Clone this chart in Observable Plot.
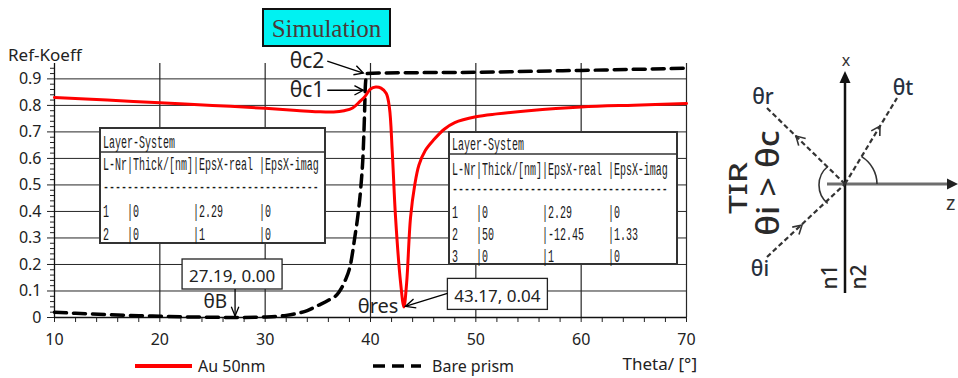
<!DOCTYPE html>
<html>
<head>
<meta charset="utf-8">
<script src="https://cdn.jsdelivr.net/npm/d3@7"></script>
<script src="https://cdn.jsdelivr.net/npm/@observablehq/plot@0.6"></script>
<style>
  body { margin: 0; background: #fff; }
  #chart { position: relative; width: 958px; height: 378px; }
</style>
</head>
<body>
<div id="chart"></div>
<script>
// ---------------- data ----------------
const seriesNames = ["Au 50nm", "Bare prism"];

const thetaAu = [10, 15, 20, 25, 30, 33, 35, 36.5, 37.5, 38.3, 39, 39.5, 40, 40.5, 41, 41.5, 41.8, 42.06, 42.38, 42.86, 43.17, 43.43, 43.8, 44.2, 44.6, 45.2, 46, 47, 48, 50, 52, 55, 60, 65, 70];
const rAu     = [0.83, 0.82, 0.81, 0.80, 0.789, 0.781, 0.776, 0.775, 0.78, 0.79, 0.815, 0.835, 0.862, 0.869, 0.865, 0.845, 0.79, 0.63, 0.377, 0.13, 0.04, 0.13, 0.377, 0.5, 0.575, 0.63, 0.67, 0.71, 0.735, 0.757, 0.768, 0.78, 0.794, 0.801, 0.807];

const thetaPrism = [10, 12, 15, 18, 20, 23, 25, 27.19, 29, 30, 31, 32, 33, 34, 35, 36, 37, 37.6, 38.1, 38.5, 38.85, 39.1, 39.3, 39.42, 39.52, 39.65, 41, 50, 60, 70];
const rPrism     = [0.02, 0.016, 0.011, 0.007, 0.005, 0.002, 0.0008, 0, 0.0008, 0.002, 0.004, 0.008, 0.015, 0.026, 0.045, 0.065, 0.095, 0.14, 0.2, 0.3, 0.4, 0.5, 0.62, 0.75, 0.88, 0.92, 0.922, 0.925, 0.932, 0.94];

const xTicks = [10, 20, 30, 40, 50, 60, 70];
const xMinorTicks = [12, 14, 16, 18, 22, 24, 26, 28, 32, 34, 36, 38, 42, 44, 46, 48, 52, 54, 56, 58, 62, 64, 66, 68];
const yTicks = [0, 0.1, 0.2, 0.3, 0.4, 0.5, 0.6, 0.7, 0.8, 0.9];
const yMinorTicks = d3.range(0, 0.95, 0.02).map(v => +v.toFixed(2)).filter(v => Math.round(v * 100) % 10 !== 0);

const yLabel = "Ref-Koeff";
const xLabel = "Theta/ [°]";
const titleText = "Simulation";

// annotated points
const criticalNotes = [
  { label: "θc2", theta: 39.55, R: 0.92 },
  { label: "θc1", theta: 39.55, R: 0.855 }
];
const brewster = { label: "θB", theta: 27.19, R: 0.00, box: "27.19, 0.00" };
const resonance = { label: "θres", theta: 43.17, R: 0.04, box: "43.17, 0.04" };

// layer tables
const tableHeader = ["Layer-System", "L-Nr|Thick/[nm]|EpsX-real |EpsX-imag", "------------------------------------"];
const tablePrismRows = ["1   |0         |2.29      |0", "2   |0         |1         |0"];
const tableAuRows = ["1   |0         |2.29      |0", "2   |50        |-12.45    |1.33", "3   |0         |1         |0"];

// diagram labels
const diagramLabels = { r: "θr", t: "θt", i: "θi", tir: "TIR", cond: "θi > θc", n1: "n1", n2: "n2", x: "x", z: "z" };

// ---------------- chart ----------------
const au = thetaAu.map((t, i) => ({ theta: t, R: rAu[i] }));
const prism = thetaPrism.map((t, i) => ({ theta: t, R: rPrism[i] }));

const gridColor = "#262626";
const plot = Plot.plot({
  width: 958,
  height: 378,
  marginLeft: 54,
  marginRight: 272,
  marginTop: 63,
  marginBottom: 61,
  x: { domain: [10, 70] },
  y: { domain: [0, 0.958] },
  style: { fontFamily: "Noto Sans, sans-serif", fontSize: "16px", color: "#222", background: "white", overflow: "visible" },
  marks: [
    Plot.gridY(yTicks.filter(v => v > 0), { stroke: gridColor, strokeOpacity: 1, strokeWidth: 1 }),
    Plot.gridX(xTicks.filter(v => v > 10), { stroke: gridColor, strokeOpacity: 1, strokeWidth: 1.2 }),
    Plot.axisY({ ticks: yMinorTicks, tickSize: 4, tickFormat: () => "", label: null, stroke: "#222" }),
    Plot.axisY({ ticks: yTicks, tickSize: 7, tickPadding: 6, tickFormat: d => d === 0 ? "0" : d.toFixed(1), label: null, stroke: "#222", fill: "#222" }),
    Plot.axisX({ ticks: xMinorTicks, tickSize: 5, tickFormat: () => "", label: null, stroke: "#222" }),
    Plot.axisX({ ticks: xTicks, tickSize: 5, tickPadding: 11, label: null, stroke: "#222", fill: "#222" }),
    Plot.ruleX([10], { stroke: "#111", strokeWidth: 1.3 }),
    Plot.ruleY([0], { stroke: "#111", strokeWidth: 1.3 }),
    Plot.line(prism, { x: "theta", y: "R", stroke: "#000", strokeWidth: 3.5, strokeDasharray: "12,7", curve: "monotone-x" }),
    Plot.line(au, { x: "theta", y: "R", stroke: "#ff0000", strokeWidth: 3, curve: "catmull-rom" })
  ]
});
document.getElementById("chart").appendChild(plot);

const sx = plot.scale("x").apply, sy = plot.scale("y").apply;
const svg = d3.select(plot);
const g = svg.append("g").attr("text-anchor", "start");

function openHead(sel, x1, y1, x2, y2, len, ang, stroke, width) {
  const a = Math.atan2(y2 - y1, x2 - x1), r = ang * Math.PI / 180;
  const p = [[x2 - len * Math.cos(a - r), y2 - len * Math.sin(a - r)], [x2, y2], [x2 - len * Math.cos(a + r), y2 - len * Math.sin(a + r)]];
  sel.append("path").attr("d", d3.line()(p)).attr("fill", "none").attr("stroke", stroke).attr("stroke-width", width).attr("stroke-linejoin", "miter");
}
function arrow(sel, x1, y1, x2, y2, opt = {}) {
  const { len = 10, ang = 25, stroke = "#000", width = 1.3 } = opt;
  sel.append("line").attr("x1", x1).attr("y1", y1).attr("x2", x2).attr("y2", y2).attr("stroke", stroke).attr("stroke-width", width);
  openHead(sel, x1, y1, x2, y2, len, ang, stroke, width);
}
function txt(sel, x, y, s, size, opt = {}) {
  const t = sel.append("text").attr("x", x).attr("y", y).text(s)
    .attr("font-size", size).attr("font-family", opt.family || "Noto Sans, sans-serif")
    .attr("fill", opt.fill || "#222").attr("text-anchor", opt.anchor || "start");
  if (opt.weight) t.attr("font-weight", opt.weight);
  if (opt.transform) t.attr("transform", opt.transform);
  return t;
}

// axis titles
txt(g, 8, 61, yLabel, 17);
txt(g, 697, 370, xLabel, 17, { anchor: "end" });

// legend
const legendStyles = [
  { x: 135, stroke: "#ff0000", width: 4, dash: null, len: 57 },
  { x: 373, stroke: "#000", width: 3.5, dash: "12,7", len: 48 }
];
seriesNames.forEach((name, i) => {
  const s = legendStyles[i];
  const l = g.append("line").attr("x1", s.x).attr("x2", s.x + s.len).attr("y1", 366).attr("y2", 366)
    .attr("stroke", s.stroke).attr("stroke-width", s.width);
  if (s.dash) l.attr("stroke-dasharray", s.dash);
  txt(g, s.x + s.len + (i === 0 ? 6 : 11), 372, name, 16);
});

// title box
g.append("rect").attr("x", 263).attr("y", 9).attr("width", 127).attr("height", 37)
  .attr("fill", "#00f2f2").attr("stroke", "#111").attr("stroke-width", 2);
txt(g, 326.5, 37, titleText, 25, { family: "Liberation Serif, serif", anchor: "middle", fill: "#4a3a3a" });

// critical angle notes
criticalNotes.forEach(n => {
  const px = sx(n.theta), py = sy(n.R);
  const ty = n.label === "θc2" ? py - 5 : py + 7;
  txt(g, px - 41, ty, n.label, 21, { anchor: "end" });
  arrow(g, px - 38, n.label === "θc2" ? py - 12 : py, px - 2, py, { len: 10, ang: 28, width: 1.4 });
});

// value boxes
function valueBox(px, py, w, h, s) {
  g.append("rect").attr("x", px).attr("y", py).attr("width", w).attr("height", h)
    .attr("fill", "#fff").attr("stroke", "#222").attr("stroke-width", 1.3);
  txt(g, px + w / 2, py + h - 7, s, 17, { anchor: "middle" });
}
{
  const bx = sx(brewster.theta), by = sy(brewster.R);
  valueBox(bx - 53, by - 58, 100, 30, brewster.box);
  arrow(g, bx, by - 28, bx, by - 1, { len: 10, ang: 22, width: 1.3 });
  txt(g, bx - 8, by - 9, brewster.label, 19, { anchor: "end" });
}
{
  const rx = sx(resonance.theta), ry = sy(resonance.R);
  valueBox(rx + 44, ry - 28, 100, 31, resonance.box);
  arrow(g, rx + 44, ry - 13, rx + 2, ry, { len: 11, ang: 25, width: 1.3 });
  txt(g, rx - 5, ry + 7, resonance.label, 20, { anchor: "end" });
}

// layer tables
function table(x, y, w, h, sepY, baselines, lines) {
  g.append("rect").attr("x", x).attr("y", y).attr("width", w).attr("height", h)
    .attr("fill", "#fff").attr("stroke", "#333").attr("stroke-width", 2);
  g.append("line").attr("x1", x).attr("x2", x + w).attr("y1", sepY).attr("y2", sepY)
    .attr("stroke", "#333").attr("stroke-width", 1.5);
  lines.forEach((s, i) => {
    g.append("text").attr("transform", `translate(${x + 3},${baselines[i]}) scale(0.5556,1)`)
      .attr("text-anchor", "start")
      .attr("font-family", "Liberation Mono, monospace").attr("font-size", 18).attr("fill", "#1a1a1a")
      .attr("xml:space", "preserve").style("white-space", "pre").text(s);
  });
}
table(100, 128, 225, 115, 152, [148, 170, 193, 217, 240], tableHeader.concat(tablePrismRows));
table(449, 132, 228, 132, 154, [150, 175, 195, 218, 240, 262], tableHeader.concat(tableAuRows));

// ---------------- TIR diagram ----------------
const d = svg.append("g").attr("text-anchor", "start");
const O = [845, 184];
// z axis
d.append("line").attr("x1", 827).attr("y1", O[1]).attr("x2", 950).attr("y2", O[1]).attr("stroke", "#6e6e6e").attr("stroke-width", 3);
d.append("path").attr("d", "M958,184 L947,178.5 L947,189.5 Z").attr("fill", "#222");
txt(d, 946, 210, diagramLabels.z, 20, { fill: "#333" });
// x axis
d.append("line").attr("x1", O[0]).attr("y1", 293).attr("x2", O[0]).attr("y2", 80).attr("stroke", "#111").attr("stroke-width", 2.5);
d.append("path").attr("d", "M845,71 L839.5,83 L850.5,83 Z").attr("fill", "#111");
txt(d, 846, 66, diagramLabels.x, 16, { anchor: "middle", fill: "#333" });

// rays
const dashStyle = (sel) => sel.attr("stroke", "#333").attr("stroke-width", 2.2).attr("stroke-dasharray", "5,3");
const rays = [
  { from: [767, 257], to: O, mid: [802, 225] },
  { from: O, to: [767, 108], mid: [796, 136] },
  { from: O, to: [897, 98], mid: [880, 126] }
];
rays.forEach(r => {
  dashStyle(d.append("line").attr("x1", r.from[0]).attr("y1", r.from[1]).attr("x2", r.to[0]).attr("y2", r.to[1]));
  openHead(d, r.from[0], r.from[1], r.mid[0], r.mid[1], 10, 30, "#333", 1.6);
});
// angle arcs
const arcT = d3.arc()({ innerRadius: 32, outerRadius: 32, startAngle: Math.PI / 2, endAngle: Math.PI / 2 - (58.8 * Math.PI / 180) });
d.append("path").attr("d", arcT).attr("transform", `translate(${O[0]},${O[1]})`).attr("fill", "none").attr("stroke", "#333").attr("stroke-width", 1.6);
const arcI = d3.arc()({ innerRadius: 24, outerRadius: 24, startAngle: -Math.PI * 0.22, endAngle: -Math.PI * 0.78 });
d.append("path").attr("d", arcI).attr("transform", `translate(${O[0] - 2},${O[1] + 1})`).attr("fill", "none").attr("stroke", "#333").attr("stroke-width", 1.6);

// labels
const lblFill = "#26303f";
txt(d, 763, 104, diagramLabels.r, 21, { anchor: "middle", fill: lblFill, weight: 500 });
txt(d, 903, 95, diagramLabels.t, 21, { anchor: "middle", fill: lblFill, weight: 500 });
txt(d, 760, 276, diagramLabels.i, 21, { anchor: "middle", fill: lblFill, weight: 500 });
txt(d, 0, 0, diagramLabels.tir, 25, { anchor: "middle", fill: "#2a2a2a", weight: 500, transform: "translate(747,188) rotate(-90) scale(1.35,1)" });
txt(d, 0, 0, diagramLabels.cond, 30, { anchor: "middle", fill: "#2a2a2a", weight: 500, transform: "translate(779,183) rotate(-90) scale(1.15,1)" });
txt(d, 0, 0, diagramLabels.n1, 21, { anchor: "middle", fill: "#2a2a2a", weight: 500, transform: "translate(837,277) rotate(-90)" });
txt(d, 0, 0, diagramLabels.n2, 21, { anchor: "middle", fill: "#2a2a2a", weight: 500, transform: "translate(866,277) rotate(-90)" });
</script>
</body>
</html>
